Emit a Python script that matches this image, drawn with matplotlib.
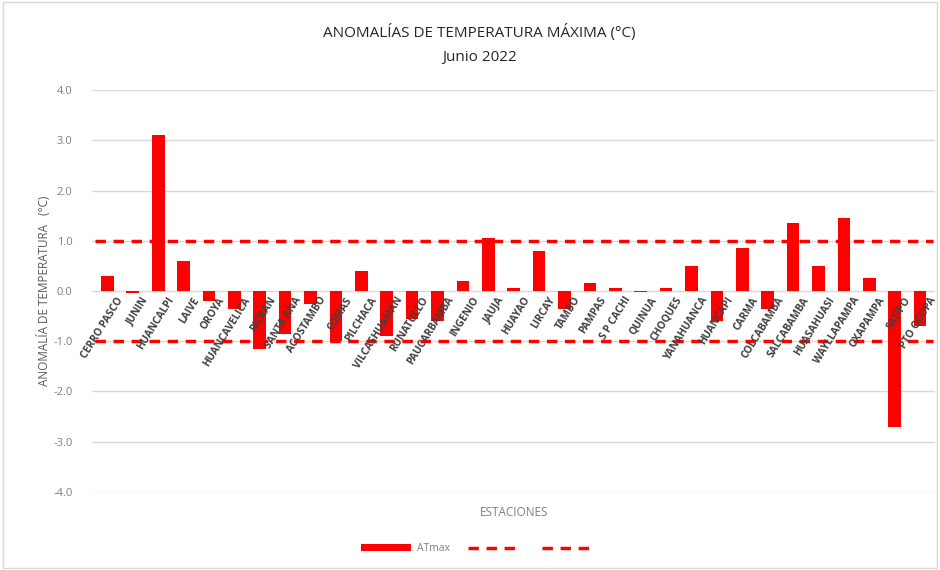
import matplotlib.pyplot as plt
import numpy as np

estaciones = ['CERRO PASCO', 'JUNIN', 'HUANCALPI', 'LAIVE', 'OROYA', 'HUANCAVELICA',
              'RICRAN', 'SANTA ANA', 'ACOSTAMBO', 'COMAS', 'PILCHACA', 'VILCASHUAMAN',
              'RUNATULLO', 'PAUCARBAMBA', 'INGENIO', 'JAUJA', 'HUAYAO', 'LIRCAY', 'TAMBO',
              'PAMPAS', 'S P CACHI', 'QUINUA', 'CHOQUES', 'YANAHUANCA', 'HUANCAPI',
              'CARMA', 'COLCABAMBA', 'SALCABAMBA', 'HUASAHUASI', 'WAYLLAPAMPA',
              'OXAPAMPA', 'SATIPO', 'PTO OCOPA']
atmax = [0.3, -0.05, 3.1, 0.6, -0.2, -0.35, -1.15, -0.85, -0.25, -1.0, 0.4, -0.9,
         -0.55, -0.6, 0.2, 1.05, 0.05, 0.8, -0.35, 0.15, 0.05, -0.03, 0.05, 0.5,
         -0.6, 0.85, -0.35, 1.35, 0.5, 1.45, 0.25, -2.7, -0.7]
umbral_sup = 1.0
umbral_inf = -1.0
yticks = np.arange(-4, 4.01, 1.0)

plt.rcParams['font.family'] = ['Open Sans', 'DejaVu Sans']

fig = plt.figure(figsize=(9.4, 5.7), dpi=100)
ax = fig.add_axes([0.098, 0.137, 0.897, 0.705])

x = np.arange(len(estaciones))
bars = ax.bar(x, atmax, width=0.5, color='#ff0000', label='ATmax', zorder=3)
l1, = ax.plot([-0.5, len(x) - 0.5], [umbral_sup, umbral_sup], color='#ff0000',
              lw=2.5, ls=(0, (3, 2.2)), zorder=4)
l2, = ax.plot([-0.5, len(x) - 0.5], [umbral_inf, umbral_inf], color='#ff0000',
              lw=2.5, ls=(0, (3, 2.2)), zorder=4)

ax.set_xlim(-0.6, len(x) - 0.4)
ax.set_ylim(-4, 4)
ax.set_yticks(yticks)
ax.set_yticklabels([f'{v:.1f}' for v in yticks], color='#7f7f7f', fontsize=8)
ax.set_xticks([])
ax.tick_params(axis='y', length=0, pad=14)
ax.grid(axis='y', color='#d9d9d9', lw=1, zorder=0)
for s in ax.spines.values():
    s.set_visible(False)

for i, name in enumerate(estaciones):
    ax.text(i + 0.35, -0.08, name, rotation=58, ha='right', va='top',
            rotation_mode='anchor', fontsize=7.4, fontweight='bold',
            color='#404040', zorder=5)

ax.set_ylabel('ANOMALÍA DE TEMPERATURA   (°C)', color='#595959', fontsize=8.5, labelpad=2)
ax.set_xlabel('ESTACIONES', color='#7f7f7f', fontsize=8.5, labelpad=4)
ax.xaxis.set_label_coords(0.5, -0.035)

fig.text(0.51, 0.935, 'ANOMALÍAS DE TEMPERATURA MÁXIMA (°C)', ha='center',
         fontsize=11, color='#262626')
fig.text(0.51, 0.893, 'Junio 2022', ha='center', fontsize=11, color='#262626')

leg = fig.legend(handles=[bars, l1, l2], labels=['ATmax', '', ''], loc='center',
                 bbox_to_anchor=(0.51, 0.037), ncol=3, frameon=False, fontsize=7.5,
                 handlelength=4.8, columnspacing=1.8, handletextpad=0.5)
for t in leg.get_texts():
    t.set_color('#7f7f7f')

fig.patches.append(plt.Rectangle((0.003, 0.004), 0.994, 0.992, transform=fig.transFigure,
                                 fill=False, ec='#d9d9d9', lw=1))

fig.savefig('out.png', dpi=100)
